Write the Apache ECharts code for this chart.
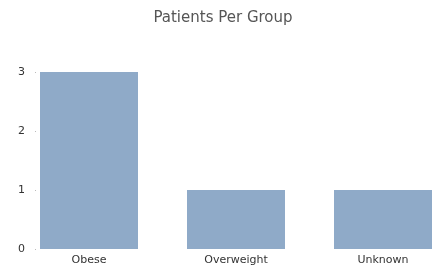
<!DOCTYPE html>
<html><head><meta charset="utf-8">
<script src="https://cdn.jsdelivr.net/npm/echarts@6/dist/echarts.min.js"></script>
<style>html,body{margin:0;padding:0;background:#fff}#c{width:446px;height:267px}</style>
</head><body><div id="c"></div>
<script>
var categories = ['Obese', 'Overweight', 'Unknown'];
var patients = [3, 1, 1];
var yTicks = [0, 1, 2, 3];

var chart = echarts.init(document.getElementById('c'), null, {renderer: 'canvas'});
chart.setOption({
  animation: false,
  title: {
    text: 'Patients Per Group', left: 'center', top: 6,
    textStyle: {fontFamily: 'DejaVu Sans', fontSize: 15, fontWeight: 'normal', color: '#555'}
  },
  grid: {left: 89, right: 63, top: 72, bottom: 18},
  xAxis: {
    type: 'category', data: categories, boundaryGap: false,
    axisLine: {show: false}, axisTick: {show: false},
    axisLabel: {fontFamily: 'DejaVu Sans', fontSize: 11, color: '#333', margin: 6}
  },
  yAxis: {
    type: 'value', min: yTicks[0], max: yTicks[yTicks.length - 1], interval: 1, offset: 53,
    axisLine: {show: false}, splitLine: {show: false},
    axisTick: {show: true, length: 1, lineStyle: {color: '#bbb'}},
    axisLabel: {fontFamily: 'DejaVu Sans', fontSize: 11, color: '#333', margin: 11}
  },
  series: [{
    type: 'bar', data: patients, barWidth: 98,
    itemStyle: {color: '#8FAAC8'}
  }]
});
</script></body></html>
